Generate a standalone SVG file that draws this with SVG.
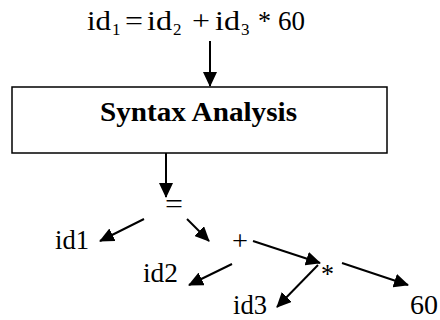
<svg xmlns="http://www.w3.org/2000/svg" width="440" height="320" viewBox="0 0 440 320">
<style>
text{font-family:"Liberation Serif","Times New Roman",serif;fill:#000}
.t{font-size:27px}
.s{font-size:17px}
.b{font-size:28px;font-weight:bold}
.c{stroke:#000;stroke-width:2;fill:none}
</style>
<defs>
<marker id="ah" markerUnits="userSpaceOnUse" markerWidth="15" markerHeight="14" refX="14" refY="7" orient="auto">
<path d="M0,0 L15,7 L0,14 z" fill="#000"/>
</marker>
</defs>
<rect width="440" height="320" fill="#fff"/>
<g id="expr">
<text class="t" x="87" y="30" textLength="24" lengthAdjust="spacingAndGlyphs">id</text>
<text class="s" x="112" y="35">1</text>
<text class="t" x="125" y="30" textLength="18" lengthAdjust="spacingAndGlyphs">=</text>
<text class="t" x="147" y="30" textLength="25" lengthAdjust="spacingAndGlyphs">id</text>
<text class="s" x="173" y="35">2</text>
<text class="t" x="192" y="30" textLength="18" lengthAdjust="spacingAndGlyphs">+</text>
<text class="t" x="215" y="30" textLength="25" lengthAdjust="spacingAndGlyphs">id</text>
<text class="s" x="241" y="35">3</text>
<text class="t" x="258" y="30" textLength="13" lengthAdjust="spacingAndGlyphs">*</text>
<text class="t" x="278" y="30" textLength="27" lengthAdjust="spacingAndGlyphs">60</text>
</g>
<g id="syntax">
<rect x="12" y="87" width="375" height="66" fill="#fff" stroke="#000" stroke-width="1.5"/>
<text class="b" x="100" y="121" textLength="197" lengthAdjust="spacingAndGlyphs">Syntax Analysis</text>
</g>
<g id="eq"><text class="t" x="165" y="213" textLength="18" lengthAdjust="spacingAndGlyphs">=</text></g>
<g id="id1"><text class="t" x="55" y="249" textLength="34" lengthAdjust="spacingAndGlyphs">id1</text></g>
<g id="plus"><text class="t" x="232" y="250" textLength="16" lengthAdjust="spacingAndGlyphs">+</text></g>
<g id="id2"><text class="t" x="143" y="282" textLength="35" lengthAdjust="spacingAndGlyphs">id2</text></g>
<g id="star"><text class="t" x="321" y="283" textLength="13" lengthAdjust="spacingAndGlyphs">*</text></g>
<g id="id3"><text class="t" x="233" y="314" textLength="34" lengthAdjust="spacingAndGlyphs">id3</text></g>
<g id="n60"><text class="t" x="410" y="314" textLength="28" lengthAdjust="spacingAndGlyphs">60</text></g>
<g id="connectors">
<line class="c" x1="210" y1="41" x2="210" y2="86" marker-end="url(#ah)"/>
<line class="c" x1="166" y1="153" x2="166" y2="197" marker-end="url(#ah)"/>
<line class="c" x1="144" y1="219" x2="100" y2="241" marker-end="url(#ah)"/>
<line class="c" x1="187" y1="219" x2="209" y2="241" marker-end="url(#ah)"/>
<line class="c" x1="253" y1="241" x2="320" y2="263" marker-end="url(#ah)"/>
<line class="c" x1="232" y1="264" x2="189" y2="285" marker-end="url(#ah)"/>
<line class="c" x1="318" y1="265" x2="277" y2="307" marker-end="url(#ah)"/>
<line class="c" x1="342" y1="263" x2="408" y2="285" marker-end="url(#ah)"/>
</g>
</svg>
